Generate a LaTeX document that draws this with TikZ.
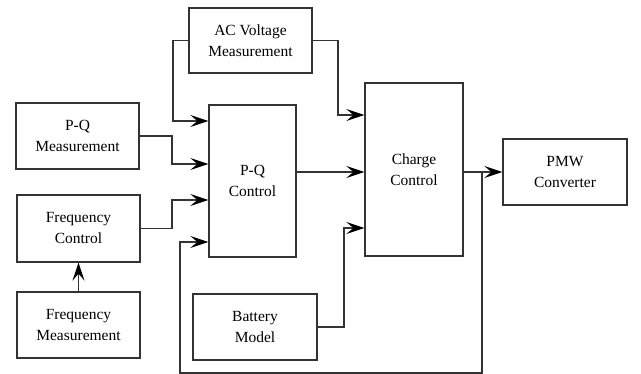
\documentclass[tikz,border=0pt]{standalone}
\usepackage{fontspec}
\setmainfont{Liberation Serif}
\usetikzlibrary{arrows.meta, positioning}

\begin{document}
\begin{tikzpicture}[x=1pt, y=-1pt, line width=1.3pt,
	block/.style={draw=black!80, rectangle, align=center, inner sep=0pt, font=\fontsize{15.5}{21}\selectfont},
	link/.style={->, draw=black!80},
	>={Stealth[length=18pt, width=12pt, inset=7pt, color=black]}]

	\useasboundingbox (0,0) rectangle (641,374);

	\node[block, minimum width=123pt, minimum height=65pt] (ac) at (250.5,40.5) {AC Voltage\\Measurement};
	\node[block, minimum width=123pt, minimum height=66pt] (pqm) at (77.5,136) {P-Q\\Measurement};
	\node[block, minimum width=87pt, minimum height=152pt] (pqc) at (252.5,181) {P-Q\\Control};
	\node[block, minimum width=123pt, minimum height=67pt] (fc) at (78.5,228.5) {Frequency\\Control};
	\node[block, minimum width=123pt, minimum height=66pt] (fm) at (78.5,325) {Frequency\\Measurement};
	\node[block, minimum width=124pt, minimum height=66pt] (bat) at (255,327) {Battery\\Model};
	\node[block, minimum width=98pt, minimum height=173pt] (cc) at (414,169.5) {Charge\\Control};
	\node[block, minimum width=124pt, minimum height=66pt] (pmw) at (565,172) {PMW\\Converter};

	\coordinate (tap) at (482,172);

	\draw[link] (ac.west) -| (173,121) -- (pqc.west |- 0,121);
	\draw[link] (ac.east) -| (338,115) -- (cc.west |- 0,115);
	\draw[link] (pqm.east) -| (172,164) -- (pqc.west |- 0,164);
	\draw[link] (fc.east) -| (172,200) -- (pqc.west |- 0,200);
	\draw[link] (fm.north) -- (fc.south);
	\draw[link] (pqc.east |- 0,172) -- (cc.west |- 0,172);
	\draw[link] (cc.east |- pmw.west) -- (pmw.west);
	\draw[link] (bat.east) -| (344,228) -- (cc.west |- 0,228);
	\draw[link] (tap) -- (482,373) -| (180,242) -- (pqc.west |- 0,242);

\end{tikzpicture}
\end{document}
